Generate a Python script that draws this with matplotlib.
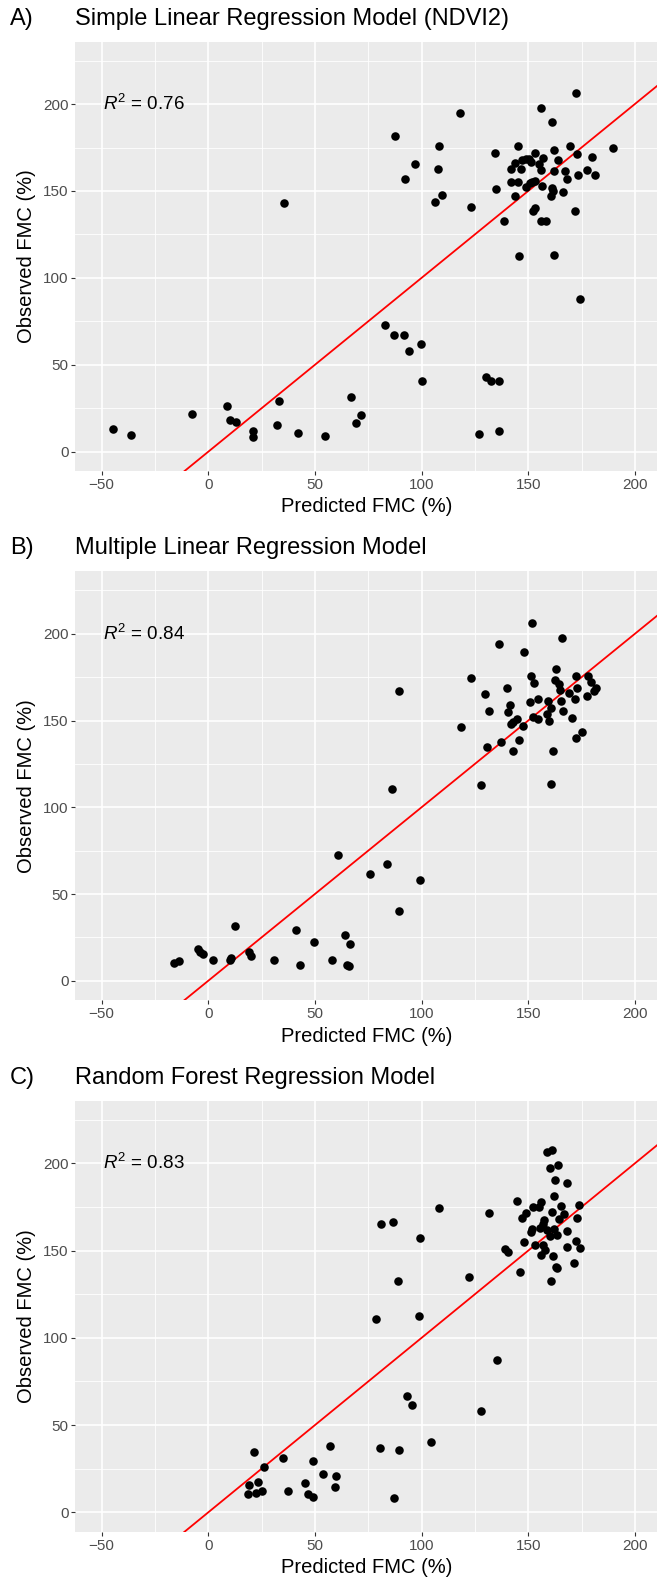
import matplotlib
matplotlib.use("Agg")
import matplotlib.pyplot as plt
import numpy as np

plt.rcParams['font.family'] = ['Liberation Sans', 'DejaVu Sans']
plt.rcParams['mathtext.fontset'] = 'custom'
plt.rcParams['mathtext.rm'] = 'Liberation Sans'
plt.rcParams['mathtext.it'] = 'Liberation Sans:italic'

# panel A - simple linear regression (NDVI2)
a_pred = [-44.6, -36.3, -7.7, 8.6, 10.0, 13.0, 20.8, 21.0, 33.0, 32.4, 42.2, 54.6, 35.4,
          67.0, 69.5, 71.7, 82.9, 87.0, 91.9, 93.9, 99.6, 100.2, 130.1, 132.8, 136.1,
          126.9, 136.3, 174.3, 145.6, 161.9, 87.4, 92.1, 96.7, 108.4, 107.5, 109.6, 106.5,
          118.1, 123.2, 134.4, 135.0, 138.5, 141.8, 141.8, 143.6, 145.2, 145.4, 143.6,
          146.6, 147.3, 148.9, 150.3, 149.1, 150.7, 151.8, 153.0, 151.3, 153.4, 152.3,
          153.2, 155.8, 158.4, 156.2, 155.2, 157.0, 156.2, 156.4, 161.3, 162.1, 162.1,
          161.3, 160.5, 161.5, 164.1, 166.3, 167.4, 168.4, 169.8, 172.3, 172.9, 173.3,
          172.1, 177.6, 179.8, 181.3, 189.8]
a_obs = [13.2, 9.4, 21.9, 26.3, 18.1, 17.2, 11.8, 8.4, 29.2, 15.3, 10.9, 8.8, 143.3,
         31.3, 16.4, 21.0, 72.7, 67.0, 67.0, 57.8, 61.8, 40.5, 42.7, 40.8, 40.6,
         10.3, 12.2, 87.8, 112.8, 113.4, 181.5, 157.1, 165.5, 175.6, 162.8, 147.9, 143.5,
         194.7, 141.0, 171.8, 151.1, 132.8, 162.8, 155.3, 166.2, 155.3, 175.8, 147.3,
         162.6, 167.9, 168.3, 168.3, 152.1, 154.6, 155.3, 155.9, 166.4, 172.1, 138.7,
         140.3, 132.8, 132.8, 197.5, 165.5, 168.7, 162.2, 152.7, 189.7, 173.7, 161.3,
         151.9, 147.3, 149.8, 168.1, 149.6, 161.3, 156.9, 176.0, 206.5, 171.2, 159.0,
         138.7, 161.8, 169.5, 159.0, 174.6]

# panel B - multiple linear regression
b_pred = [-16.3, -13.6, -4.9, -3.7, -2.4, 2.0, 10.0, 10.6, 12.4, 19.3, 20.2, 30.6, 41.3,
          43.0, 49.5, 58.0, 60.7, 64.2, 65.0, 66.0, 66.6, 76.0, 83.9, 99.2, 89.2, 86.1,
          89.6, 118.3, 123.4, 127.7, 129.7, 131.4, 130.6, 136.1, 137.3, 139.9, 141.3,
          140.5, 141.8, 143.0, 144.6, 143.0, 145.8, 147.5, 147.9, 151.1, 150.7, 151.9,
          152.5, 152.3, 154.4, 154.8, 159.4, 159.0, 159.8, 160.5, 161.7, 160.7, 162.9,
          162.7, 164.4, 164.8, 165.6, 166.0, 166.4, 169.0, 170.4, 171.9, 172.5, 173.1,
          172.5, 175.2, 177.6, 178.2, 179.4, 181.0, 181.7]
b_obs = [10.1, 11.1, 18.3, 16.8, 15.3, 12.2, 12.0, 13.3, 31.3, 16.4, 14.3, 12.2, 29.4,
         9.3, 22.1, 12.2, 72.6, 26.3, 8.8, 8.4, 21.0, 61.8, 67.1, 58.0, 40.4, 110.8,
         166.8, 146.2, 174.5, 112.7, 165.5, 155.4, 134.6, 194.4, 137.7, 168.5, 158.8,
         154.8, 147.9, 149.4, 151.1, 132.7, 138.8, 146.8, 189.5, 175.8, 160.9, 206.3,
         171.6, 152.1, 162.4, 151.0, 161.1, 153.7, 149.9, 157.3, 132.7, 113.2, 179.7,
         173.3, 170.8, 167.7, 161.1, 197.4, 155.4, 165.9, 151.2, 162.4, 175.8, 168.7,
         140.1, 143.2, 164.3, 175.8, 172.0, 166.8, 168.7]

# panel C - random forest regression
c_pred = [18.7, 18.9, 21.4, 22.6, 23.2, 25.3, 26.1, 35.0, 37.3, 45.4, 46.6, 48.9, 49.1,
          53.8, 57.0, 59.5, 59.9, 78.6, 80.9, 80.7, 86.8, 87.0, 89.0, 89.6, 93.3, 95.3,
          98.8, 99.2, 104.3, 108.1, 122.2, 128.1, 131.4, 135.6, 138.9, 140.5, 144.8,
          146.2, 147.9, 147.3, 148.9, 151.5, 151.9, 152.3, 153.0, 155.0, 155.8, 155.4,
          155.8, 157.0, 157.6, 157.8, 156.8, 158.6, 161.3, 160.0, 159.0, 160.0, 160.5,
          161.3, 161.9, 162.1, 161.7, 162.7, 163.3, 164.1, 162.9, 163.7, 164.6, 165.2,
          166.8, 168.2, 168.4, 168.4, 171.5, 172.3, 173.1, 173.9, 174.5]
c_obs = [10.5, 15.4, 34.7, 11.3, 17.2, 12.5, 26.1, 31.1, 12.3, 16.8, 10.3, 8.7, 29.3,
         22.2, 38.2, 14.5, 20.8, 110.7, 165.1, 36.6, 166.7, 8.5, 132.5, 35.8, 66.9, 61.8,
         112.5, 157.4, 40.6, 174.5, 134.7, 57.8, 171.7, 87.5, 150.9, 149.3, 178.6,
         137.6, 154.7, 168.5, 171.3, 160.8, 162.6, 174.9, 153.5, 175.1, 178.0, 162.8,
         147.3, 165.3, 167.5, 150.1, 153.1, 206.3, 207.7, 197.4, 161.8, 158.4, 132.7,
         171.9, 181.2, 162.4, 147.1, 190.5, 159.0, 199.0, 140.6, 140.2, 168.3, 175.6,
         170.9, 188.7, 161.2, 152.3, 143.0, 155.4, 168.7, 176.0, 151.3]

letters = ['A)', 'B)', 'C)']
titles = ['Simple Linear Regression Model (NDVI2)',
          'Multiple Linear Regression Model',
          'Random Forest Regression Model']
r2_labels = ['0.76', '0.84', '0.83']
preds = [a_pred, b_pred, c_pred]
obs = [a_obs, b_obs, c_obs]

W, H = 657, 1583
fig = plt.figure(figsize=(W / 100, H / 100), dpi=100)

# (top, bottom) of each panel in pixels
panels = [(41.5, 471.0), (571.4, 1000.0), (1100.6, 1531.7)]
left_px = 75.4

for i in range(3):
    top, bot = panels[i]
    ax = fig.add_axes([left_px / W, 1 - bot / H, 1 - left_px / W, (bot - top) / H])
    ax.set_facecolor('#EBEBEB')
    ax.set_xlim(-62.3, 210.4)
    ax.set_ylim(-11.1, 236)
    ax.set_xticks([-50, 0, 50, 100, 150, 200])
    ax.set_yticks([0, 50, 100, 150, 200])
    ax.set_xticks([-25, 25, 75, 125, 175], minor=True)
    ax.set_yticks([25, 75, 125, 175, 225], minor=True)
    ax.grid(which='major', color='white', lw=1.2)
    ax.grid(which='minor', color='white', lw=0.6)
    ax.set_axisbelow(True)
    for s in ax.spines.values():
        s.set_visible(False)
    ax.tick_params(which='major', length=3, width=0.8, color='#333333',
                   labelcolor='#4D4D4D', labelsize=11, pad=2)
    ax.tick_params(which='minor', length=0)

    ax.plot([-20, 220], [-20, 220], color='red', lw=1.3, zorder=2)
    ax.scatter(preds[i], obs[i], s=38, color='black', linewidths=0, zorder=3)

    ax.text(-49.5, 200, r'$\mathit{R}^2$ = ' + r2_labels[i], fontsize=13.5,
            ha='left', va='center', color='black')
    ax.set_xlabel('Predicted FMC (%)', fontsize=14.5, labelpad=4)
    ax.set_ylabel('Observed FMC (%)', fontsize=14.5, labelpad=5)

    fig.text(left_px / W, 1 - (top - 23) / H, titles[i], fontsize=17,
             ha='left', va='center')
    fig.text(10 / W, 1 - (top - 23) / H, letters[i], fontsize=17,
             ha='left', va='center')

fig.savefig('out.png', dpi=100)
